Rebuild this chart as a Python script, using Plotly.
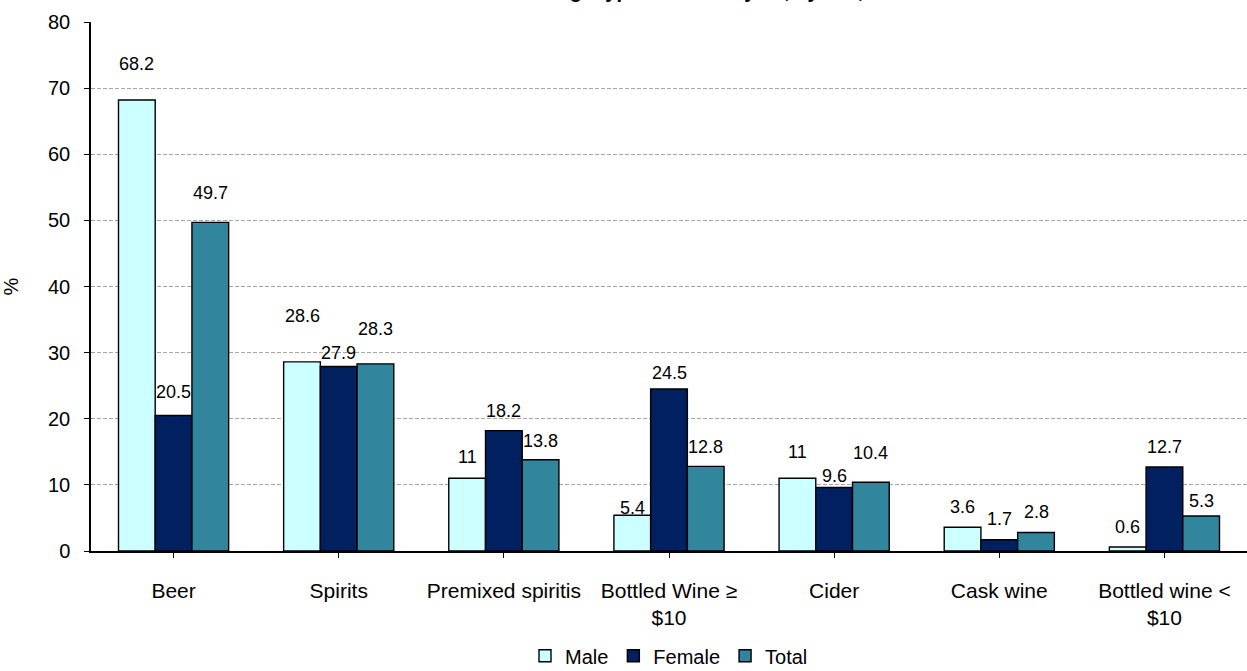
import plotly.graph_objects as go

# Beverage categories and shares (%) of drinkers by sex
categories = ["Beer", "Spirits", "Premixed spiritis", "Bottled Wine ≥<br>$10",
              "Cider", "Cask wine", "Bottled wine <<br>$10"]
male = [68.2, 28.6, 11, 5.4, 11, 3.6, 0.6]
female = [20.5, 27.9, 18.2, 24.5, 9.6, 1.7, 12.7]
total = [49.7, 28.3, 13.8, 12.8, 10.4, 2.8, 5.3]

series_names = ["Male", "Female", "Total"]
series_values = [male, female, total]
series_colors = ["#CCFFFF", "#002060", "#31859C"]

# vertical lift of each value label above its bar top, in pixels
label_lift = [
    [36, 46, 21, 7, 26, 20, 20],
    [23, 14, 20, 16, 12, 21, 20],
    [29, 35, 19, 19, 29, 20, 15],
]

BARGAP = 0.333
FONT = "Liberation Sans, Arial, sans-serif"

fig = go.Figure()
x_idx = list(range(len(categories)))
for name, vals, col in zip(series_names, series_values, series_colors):
    fig.add_trace(go.Bar(
        name=name, x=x_idx, y=vals,
        marker=dict(color=col, line=dict(color="black", width=1.4)),
    ))

# value labels above the bars
bar_w = (1 - BARGAP) / 3
annotations = []
for k, vals in enumerate(series_values):
    for i, v in enumerate(vals):
        annotations.append(dict(
            x=i + (k - 1) * bar_w, y=v, xref="x", yref="y",
            text=f"{v:g}", showarrow=False, yanchor="middle",
            yshift=label_lift[k][i], font=dict(size=18, color="black", family=FONT),
        ))

# chart title, sitting at the very top edge of the page
annotations.append(dict(
    x=0.47, y=1, xref="paper", yref="paper", yanchor="bottom",
    yshift=18, showarrow=False,
    text="<b>Drinkers' usual beverage type in the last year, by sex, 2009</b>",
    font=dict(size=20, color="black", family=FONT),
))

fig.update_layout(
    width=1247, height=671,
    margin=dict(l=91, r=0, t=22, b=120, autoexpand=False),
    paper_bgcolor="white", plot_bgcolor="white",
    barmode="group", bargap=BARGAP, bargroupgap=0,
    font=dict(family=FONT, size=20, color="black"),
    showlegend=True,
    legend=dict(orientation="h", x=0.5, xanchor="center", y=-0.198, yanchor="middle",
                font=dict(size=20, family=FONT), itemwidth=30, traceorder="normal",
                tracegroupgap=0),
    annotations=annotations,
    xaxis=dict(
        tickmode="array", tickvals=x_idx, ticktext=categories,
        range=[-0.5, len(categories) - 0.5],
        showline=True, linecolor="black", linewidth=1.5,
        ticks="outside", tickson="boundaries", ticklen=5, tickcolor="black",
        tickfont=dict(size=21, family=FONT), showgrid=False,
        ticklabelstandoff=15,
    ),
    yaxis=dict(
        range=[0, 80], dtick=10, showline=True, linecolor="black", linewidth=1.5,
        ticks="outside", ticklen=5, tickcolor="black",
        tickfont=dict(size=20, family=FONT), ticklabelstandoff=10,
        showgrid=True, gridcolor="#A6A6A6", griddash="4px,2px", gridwidth=1,
        zeroline=False,
        title=dict(text="%", font=dict(size=20, family=FONT), standoff=24),
    ),
)

fig.write_html("out.html")
